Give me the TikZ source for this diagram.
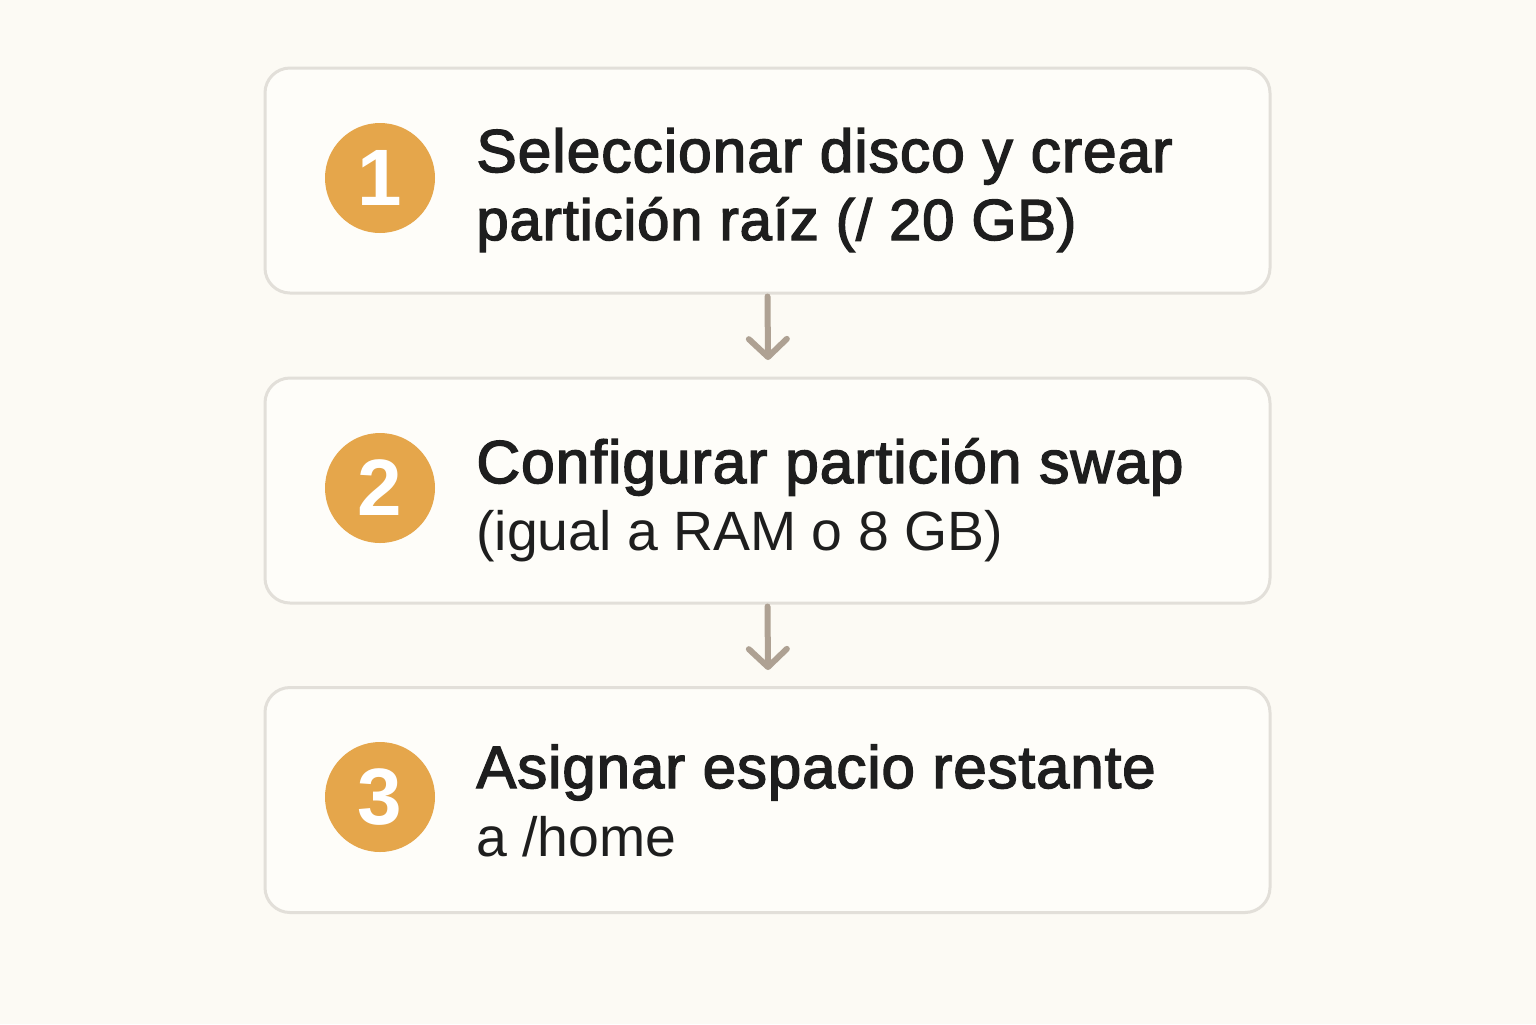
\documentclass[tikz,border=0pt]{standalone}
\usepackage{fontspec}
\setmainfont{Liberation Sans}
\newfontfamily\medfont{Liberation Sans}[RawFeature={embolden=2.4}, LetterSpace=1.5]
\newfontfamily\regfont{Liberation Sans}
\usetikzlibrary{arrows.meta}
\definecolor{bgc}{HTML}{FCFAF4}
\definecolor{boxfill}{HTML}{FEFDF9}
\definecolor{boxline}{HTML}{E2DFD9}
\definecolor{badge}{HTML}{E5A64B}
\definecolor{arrowc}{HTML}{AEA193}
\definecolor{txt}{HTML}{1E1E1E}
\tikzset{
  stepbox/.style={draw=boxline, line width=1.5pt, fill=boxfill, rounded corners=12.5pt, minimum width=502.5pt, minimum height=112.5pt, inner sep=0pt},
  badgec/.style={circle, fill=badge, minimum size=55pt, inner sep=0pt, text=white, font=\fontsize{40}{42}\selectfont\bfseries},
  headline/.style={anchor=base west, inner sep=0pt, text=txt, font=\medfont\fontsize{30.3}{34}\selectfont},
  subline/.style={anchor=base west, inner sep=0pt, text=txt, font=\regfont\fontsize{27.7}{32}\selectfont},
  flowarrow/.style={draw=arrowc, line width=3pt, line cap=round, -{Straight Barb[length=9pt, width=19pt, line cap=round, line join=round]}}
}
\begin{document}
\begin{tikzpicture}[x=0.5pt, y=-0.5pt]
\fill[bgc] (0,0) rectangle (1536,1024);
\useasboundingbox (0,0) rectangle (1536,1024);
\node[stepbox] (b1) at (767.5,180.5) {};
\node[stepbox] (b2) at (767.5,490.5) {};
\node[stepbox] (b3) at (767.5,800) {};
\node[badgec] (c1) at (380,178) {1};
\node[badgec] (c2) at (380,488) {2};
\node[badgec] (c3) at (380,797) {3};
\node[headline] (t1a) at (476,172) {Seleccionar disco y crear};
\node[headline, font=\medfont\fontsize{29}{34}\selectfont] (t1b) at (476,240) {partición raíz (/ 20 GB)};
\node[headline] (t2a) at (476,483) {Configurar partición swap};
\node[subline] (t2b) at (476,550) {(igual a RAM o 8 GB)};
\node[headline, font=\medfont\fontsize{30}{34}\selectfont] (t3a) at (476,788) {Asignar espacio restante};
\node[subline] (t3b) at (476,856) {a /home};
\coordinate (a1end) at (768,360);
\coordinate (a2end) at (768,670);
\draw[flowarrow] ([yshift=-1pt]b1.south) -- (a1end);
\draw[flowarrow] ([yshift=-1pt]b2.south) -- (a2end);
\end{tikzpicture}
\end{document}
